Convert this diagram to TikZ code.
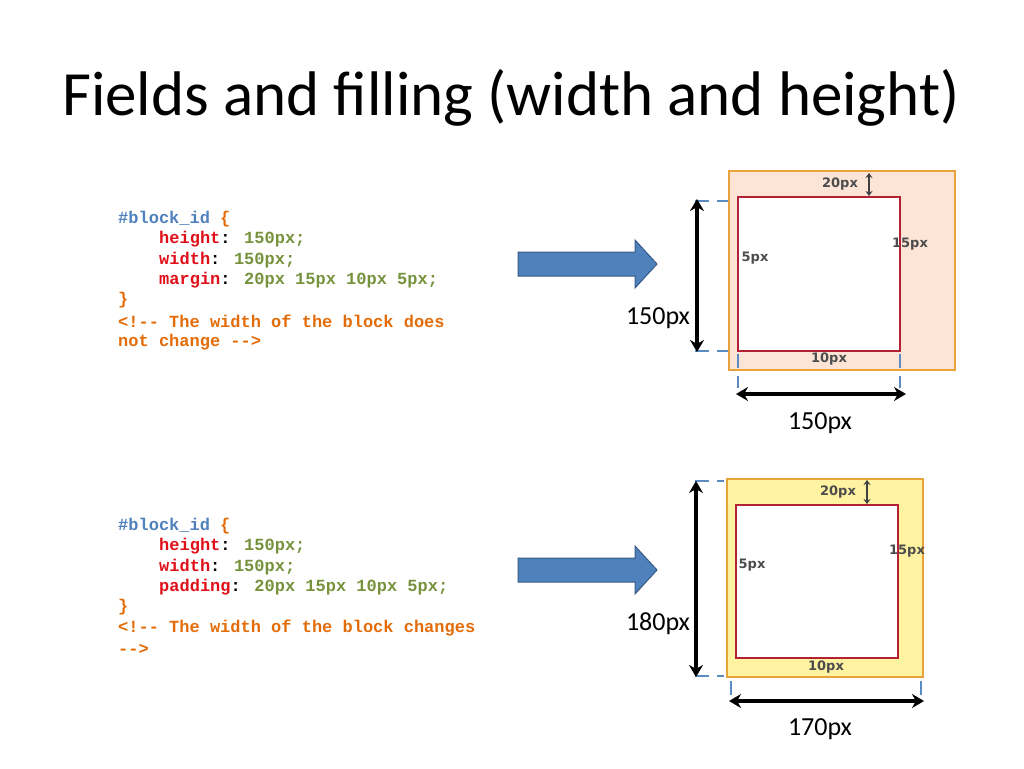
\documentclass[tikz,border=0pt]{standalone}
\usepackage{fontspec}
\setmainfont{Carlito}
\newfontfamily\codefont{Liberation Mono}
\newfontfamily\lblfont{DejaVu Sans}
\usetikzlibrary{arrows.meta}
\definecolor{cblue}{HTML}{4F81BD}
\definecolor{cred}{HTML}{E0101A}
\definecolor{cgreen}{HTML}{76923C}
\definecolor{corange}{HTML}{E36C09}
\definecolor{borange}{HTML}{E8A33A}
\definecolor{fpeach}{HTML}{FCE4D6}
\definecolor{fyellow}{HTML}{FFF2A0}
\definecolor{redbox}{HTML}{B22234}
\definecolor{dash}{HTML}{5B8BC0}
\tikzset{
 code/.style={anchor=west,inner sep=0,font=\codefont\bfseries\fontsize{17}{19}\selectfont},
 big/.style={draw=black,line width=3.5pt,{Stealth[length=12pt,width=14pt]}-{Stealth[length=12pt,width=14pt]}},
 dsh/.style={draw=dash,line width=2pt,dash pattern=on 14pt off 8pt},
 sm/.style={inner sep=0,font=\lblfont\bfseries\fontsize{13}{15}\selectfont,text=black!70},
 dim/.style={inner sep=0,font=\fontsize{26}{30}\selectfont},
 barrow/.style={draw=cblue!70!black,fill=cblue,line width=1pt},
}
\newcommand{\bluearrow}[1]{\draw[barrow] (518,#1-12) -- (635,#1-12) -- (635,#1-24) -- (657,#1) -- (635,#1+24) -- (635,#1+12) -- (518,#1+12) -- cycle;}
\begin{document}
\begin{tikzpicture}[x=1pt,y=-1pt]
\useasboundingbox (0,0) rectangle (1024,768);
\node[font=\fontsize{63}{70}\selectfont] (title) at (511,98) {Fields and filling (width and height)};
% code 1
\node[code,text=cblue] (a1) at (118,219) {\#block\_id {\color{corange}\{}};
\node[code] (a2) at (159,239) {{\color{cred}height}: {\color{cgreen}150px;}};
\node[code] (a3) at (159,260) {{\color{cred}width}: {\color{cgreen}150px;}};
\node[code] (a4) at (159,280) {{\color{cred}margin}: {\color{cgreen}20px 15px 10px 5px;}};
\node[code,text=corange] (a5) at (118,300) {\}};
\node[code,text=corange] (a6) at (118,321) {<!-- The width of the block does};
\node[code,text=corange] (a7) at (118,342) {not change -->};
% code 2
\node[code,text=cblue] (b1) at (118,526) {\#block\_id {\color{corange}\{}};
\node[code] (b2) at (159,546) {{\color{cred}height}: {\color{cgreen}150px;}};
\node[code] (b3) at (159,567) {{\color{cred}width}: {\color{cgreen}150px;}};
\node[code] (b4) at (159,587) {{\color{cred}padding}: {\color{cgreen}20px 15px 10px 5px;}};
\node[code,text=corange] (b5) at (118,607) {\}};
\node[code,text=corange] (b6) at (118,628) {<!-- The width of the block changes};
\node[code,text=corange] (b7) at (118,649) {-->};
% arrows
\bluearrow{264}
\bluearrow{570}
% top diagram
\draw[borange,fill=fpeach,line width=2pt] (729,171) rectangle (955,370);
\draw[redbox,fill=white,line width=1.2pt] (738,197) rectangle (900,351);
\draw[dsh] (695,201) -- (728,201);
\draw[dsh] (695,351) -- (728,351);
\draw[dsh] (738,354) -- (738,388);
\draw[dsh] (900,354) -- (900,388);
\coordinate (t1) at (697,199); \coordinate (t2) at (697,352);
\draw[big] (t1) -- (t2);
\coordinate (h1) at (736,394); \coordinate (h2) at (906,394);
\draw[big] (h1) -- (h2);
\draw[black!75,line width=1.2pt,{Stealth[length=5pt,width=7pt]}-{Stealth[length=5pt,width=7pt]}] (869,173) -- (869,196);
\node[sm] (l20a) at (840,184) {20px};
\node[sm] (l5a) at (755,258) {5px};
\node[sm] (l15a) at (910,244) {15px};
\node[sm] (l10a) at (829,359) {10px};
\node[dim] (d1) at (658,318) {150px};
\node[dim] (d2) at (820,423) {150px};
% bottom diagram
\draw[borange,fill=fyellow,line width=2pt] (727,479) rectangle (923,677);
\draw[redbox,fill=white,line width=1.2pt] (736,505) rectangle (898,658);
\draw[dsh] (695,481) -- (724,481);
\draw[dsh] (695,676) -- (724,676);
\draw[dsh] (731,681) -- (731,700);
\draw[dsh] (921,681) -- (921,700);
\coordinate (u1) at (696,481); \coordinate (u2) at (696,677);
\draw[big] (u1) -- (u2);
\coordinate (v1) at (729,701); \coordinate (v2) at (924,701);
\draw[big] (v1) -- (v2);
\draw[black!75,line width=1.2pt,{Stealth[length=5pt,width=7pt]}-{Stealth[length=5pt,width=7pt]}] (867,480) -- (867,504);
\node[sm] (l20b) at (838,492) {20px};
\node[sm] (l5b) at (752,565) {5px};
\node[sm] (l15b) at (907,551) {15px};
\node[sm] (l10b) at (826,667) {10px};
\node[dim] (d3) at (658,624) {180px};
\node[dim] (d4) at (820,729) {170px};
\end{tikzpicture}
\end{document}
